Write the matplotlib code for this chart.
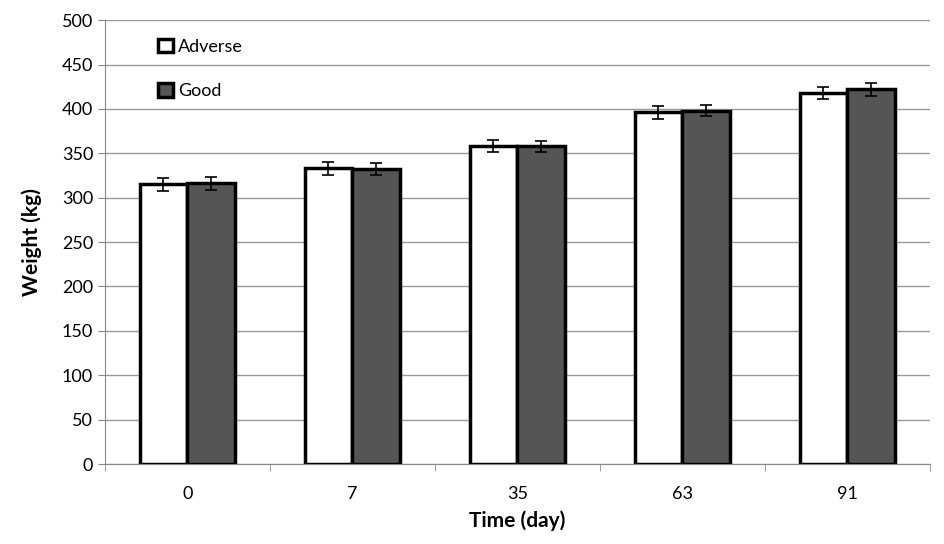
import numpy as np
import matplotlib.pyplot as plt

days = ['0', '7', '35', '63', '91']
adverse = [315, 333, 358, 396, 418]
good = [316, 332, 358, 398, 422]
adverse_err = [7, 7, 7, 7, 7]
good_err = [7, 7, 6, 6, 7]

plt.rcParams['font.family'] = ['Lato', 'DejaVu Sans']

fig = plt.figure(figsize=(9.45, 5.44), dpi=100)
ax = fig.add_axes([0.111, 0.147, 0.873, 0.816])

x = np.arange(len(days))
w = 0.29
ax.bar(x - w/2, adverse, w, yerr=adverse_err, color='white', edgecolor='black',
       linewidth=2.5, label='Adverse', capsize=4, error_kw={'elinewidth': 1.2, 'capthick': 1.2}, zorder=3)
ax.bar(x + w/2, good, w, yerr=good_err, color='#555555', edgecolor='black',
       linewidth=2.5, label='Good', capsize=4, error_kw={'elinewidth': 1.2, 'capthick': 1.2}, zorder=3)

ax.set_xlim(-0.5, len(days) - 0.5)
ax.set_ylim(0, 500)
ax.set_yticks(np.arange(0, 501, 50))
ax.set_xticks(x)
ax.set_xticklabels(days)
ax.set_xticks(np.arange(-0.5, len(days), 1), minor=True)
ax.tick_params(axis='x', which='major', length=0, pad=16, labelsize=13)
ax.tick_params(axis='x', which='minor', length=5, color='#888888')
ax.tick_params(axis='y', length=5, color='#888888', labelsize=13)
ax.yaxis.grid(True, color='#999999', linewidth=1)
ax.set_axisbelow(True)
for s in ['top', 'right']:
    ax.spines[s].set_visible(False)
ax.spines['left'].set_color('#888888')
ax.spines['bottom'].set_color('#888888')

ax.set_xlabel('Time (day)', fontsize=15, fontweight='bold', labelpad=6)
ax.set_ylabel('Weight (kg)', fontsize=15, fontweight='bold', labelpad=14)

ax.legend(loc='upper left', bbox_to_anchor=(0.045, 0.995), frameon=False, fontsize=13,
          labelspacing=1.55, handlelength=0.8, handleheight=0.8, handletextpad=0.3)

fig.savefig('out.png', dpi=100)
